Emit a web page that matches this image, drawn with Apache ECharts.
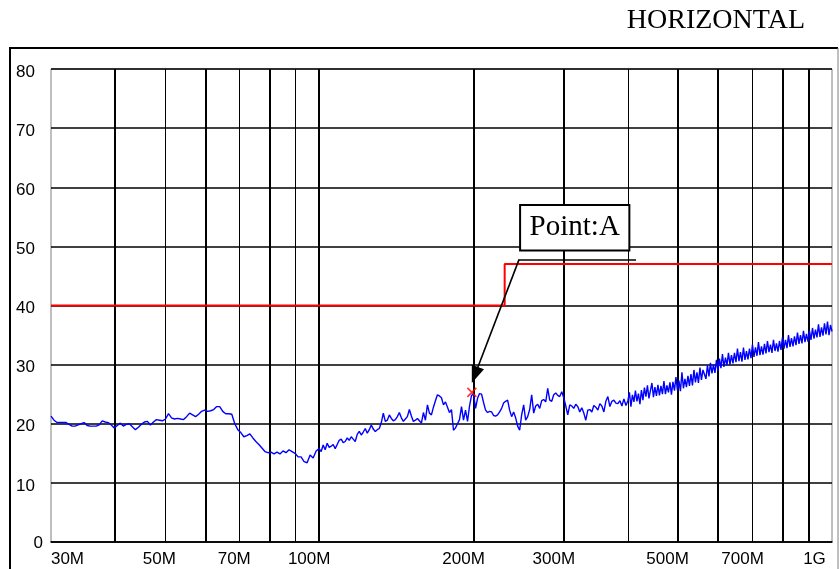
<!DOCTYPE html>
<html>
<head>
<meta charset="utf-8">
<script src="https://cdn.jsdelivr.net/npm/echarts@6/dist/echarts.min.js"></script>
<style>
  html, body { margin: 0; padding: 0; background: #fff; }
  #chart { width: 839px; height: 569px; }
</style>
</head>
<body>
<div id="chart"></div>
<script>
// Radiated emission scan, horizontal polarisation (level in dBµV/m, frequency in MHz).
// Each sweep segment lists levels at evenly log-spaced receiver steps between its two edge frequencies.
const sweep1Range = [30, 100];
const sweep1Levels = [
  21.3, 20.6, 20.2, 20.2, 20.2, 20.2, 19.9, 19.6, 19.6, 19.8,
  20.0, 20.2, 19.7, 19.6, 19.6, 19.6, 19.8, 20.5, 20.3, 20.2,
  19.8, 19.3, 19.7, 20.1, 19.6, 19.9, 20.0, 19.5, 19.0, 19.4,
  19.9, 20.3, 20.4, 19.8, 20.3, 20.7, 20.6, 20.5, 20.8, 21.7,
  21.0, 20.8, 20.9, 20.8, 20.7, 21.2, 21.8, 21.5, 21.2, 21.6,
  22.1, 22.3, 22.1, 22.2, 22.4, 22.9, 22.9, 22.1, 21.7, 21.7,
  21.6, 20.0, 19.0, 18.5, 17.8, 18.0, 18.3, 17.6, 17.0, 16.5,
  15.9, 15.3, 15.1, 15.2, 14.9, 15.2, 14.9, 15.4, 15.1, 15.6,
  15.3, 15.0, 14.4, 14.4, 13.6, 13.4, 14.7, 14.2, 15.4, 15.8
];
const sweep2Range = [100, 400];
const sweep2Levels = [
  15.8, 15.3, 16.4, 15.6, 16.7, 16.0, 16.2, 16.5, 15.8, 16.5,
  17.2, 17.4, 16.8, 17.0, 17.6, 17.2, 17.8, 17.4, 17.0, 18.2,
  18.7, 18.1, 18.6, 19.2, 18.4, 19.0, 19.8, 19.1, 18.7, 19.0,
  19.2, 20.2, 21.8, 20.4, 20.6, 21.5, 20.9, 20.5, 20.7, 21.2,
  21.9, 21.0, 20.4, 20.8, 21.2, 22.4, 21.3, 20.4, 20.6, 20.9,
  20.5, 20.1, 21.9, 20.6, 23.2, 21.8, 21.5, 22.8, 23.9, 24.9,
  24.7, 24.4, 23.2, 23.7, 22.8, 21.9, 22.4, 18.9, 19.3, 20.0,
  20.7, 22.9, 20.6, 22.3, 20.4, 23.0, 24.8, 25.0, 22.6, 24.3,
  25.1, 25.0, 23.6, 22.3, 21.9, 22.1, 22.0, 21.4, 21.3, 21.5,
  22.0, 22.6, 23.5, 23.8, 24.0, 22.3, 21.2, 22.0, 21.0, 19.6,
  18.9, 21.5, 23.2, 20.6, 21.2, 22.4, 24.9, 21.8, 23.0, 23.3,
  22.6, 23.9, 24.1, 23.7, 26.0, 24.0, 23.8, 24.9, 25.2, 24.8,
  24.6, 25.4, 24.4, 23.0, 21.5, 23.2, 23.0, 22.6, 23.3, 22.9,
  22.0, 22.7, 21.8, 20.6, 22.3, 22.4, 22.0, 23.1, 22.8, 22.3,
  23.4, 23.0, 22.0, 23.8, 24.6, 22.9, 23.8, 24.0, 23.5, 23.4,
  23.9, 23.0, 24.2, 23.1, 23.9
];
const sweep3Range = [400, 1000];
const sweep3Levels = [
  23.6, 25.3, 22.9, 24.9, 23.7, 25.6, 23.8, 25.1, 23.3, 25.7,
  24.0, 26.1, 24.6, 26.5, 24.3, 25.6, 26.9, 24.5, 26.2, 24.7,
  26.6, 24.8, 26.4, 25.0, 27.2, 25.0, 26.5, 25.3, 27.0, 24.9,
  27.1, 25.6, 27.9, 25.7, 27.3, 25.5, 28.7, 26.0, 27.6, 26.2,
  28.1, 26.4, 28.4, 26.5, 29.1, 27.0, 28.7, 26.9, 29.5, 27.4,
  29.1, 28.8, 27.6, 29.9, 28.0, 30.3, 28.5, 30.0, 28.6, 30.8,
  29.0, 31.0, 29.4, 31.8, 29.6, 31.2, 29.9, 32.0, 30.0, 31.6,
  30.2, 32.0, 30.4, 32.7, 30.6, 32.1, 30.5, 32.9, 30.8, 32.3,
  30.9, 32.7, 31.1, 33.4, 31.3, 32.9, 31.5, 33.8, 31.6, 33.1,
  31.7, 33.5, 31.9, 34.0, 32.1, 33.4, 32.0, 34.2, 32.3, 33.6,
  32.2, 34.0, 32.5, 34.6, 32.7, 34.2, 32.8, 35.0, 33.0, 34.5,
  33.1, 34.8, 33.3, 35.4, 33.5, 35.0, 33.6, 35.7, 33.8, 35.2,
  33.9, 35.7, 34.2, 36.2, 34.4, 35.9, 34.6, 36.8, 34.7, 36.3,
  34.9, 37.0, 35.1, 37.3, 35.0, 36.7, 35.6
];

// Limit line (step at 230 MHz)
const limitFreq = [30, 230, 230, 1000];
const limitLevel = [40, 40, 47, 47];

// Marker "Point:A"
const markerFreq = 198.5;
const markerLevel = 25.3;
const markerName = 'Point:A';

// Axes
const xLabelFreqs = [30, 50, 70, 100, 200, 300, 500, 700, 1000];
const xLabelTexts = ['30M', '50M', '70M', '100M', '200M', '300M', '500M', '700M', '1G'];
const xGridHeavy = [40, 60, 80, 100, 200, 300, 500, 600, 800, 900];
const xGridLight = [50, 70, 90, 400, 700];
const yMin = 0, yMax = 80, yStep = 10;

const lg = Math.log10;
const X_MIN = lg(30), X_MAX = lg(1000);

function expandSweep(range, levels, skipFirst) {
  const a = lg(range[0]), b = lg(range[1]);
  const n = levels.length;
  const out = [];
  for (let i = skipFirst ? 1 : 0; i < n; i++) {
    out.push([a + (b - a) * i / (n - 1), levels[i]]);
  }
  return out;
}

const traceData = []
  .concat(expandSweep(sweep1Range, sweep1Levels, false))
  .concat(expandSweep(sweep2Range, sweep2Levels, true))
  .concat(expandSweep(sweep3Range, sweep3Levels, true));

const limitData = limitFreq.map((f, i) => [lg(f), limitLevel[i]]);

const SANS = "'Liberation Sans Narrow', 'Liberation Sans', Arial, sans-serif";
const SERIF = "'Liberation Serif', 'Times New Roman', serif";
const FS = 17;

function xLabel(value) {
  let best = 0, d = Infinity;
  xLabelFreqs.forEach((f, i) => {
    const dd = Math.abs(lg(f) - value);
    if (dd < d) { d = dd; best = i; }
  });
  const t = xLabelTexts[best];
  if (best === 0) return '{s|' + t + '}';
  if (best === xLabelTexts.length - 1) return '{e|' + t + '}';
  return (t.length > 3 ? '{b|' : '{a|') + t + '}';
}

const txt = (padding) => ({ fontFamily: SANS, fontSize: FS, color: '#000', padding });

const chart = echarts.init(document.getElementById('chart'), null, { renderer: 'canvas' });

chart.setOption({
  animation: false,
  backgroundColor: '#fff',
  title: {
    text: 'HORIZONTAL',
    right: 29,
    top: 2,
    textStyle: { fontFamily: SERIF, fontSize: 28, fontWeight: 'normal', color: '#000' }
  },
  graphic: [{
    type: 'polyline',
    silent: true,
    shape: { points: [[10, 575], [10, 48], [838, 48]] },
    style: { fill: null, stroke: '#000', lineWidth: 2 },
    z: 100
  }, {
    type: 'line',
    silent: true,
    shape: { x1: 838, y1: 48, x2: 838, y2: 575 },
    style: { stroke: '#808080', lineWidth: 1 },
    z: 100
  }],
  grid: {
    left: 51, right: 7, top: 69, bottom: 27,
    show: true, borderColor: '#808080', borderWidth: 1, backgroundColor: 'transparent'
  },
  xAxis: [{
    type: 'value',
    min: X_MIN, max: X_MAX,
    axisLine: { show: true, onZero: false, lineStyle: { color: '#000', width: 1.5 } },
    axisTick: { show: false, customValues: xGridHeavy.map(lg) },
    splitLine: { show: true, lineStyle: { color: '#000', width: 2 } },
    axisLabel: {
      customValues: xLabelFreqs.map(lg),
      formatter: xLabel,
      margin: 9,
      color: '#000',
      fontFamily: SANS,
      fontSize: FS,
      rich: {
        a: txt([0, 11, 0, 0]),
        b: txt([0, 20, 0, 0]),
        s: txt([0, 0, 0, 33]),
        e: txt([0, 35, 0, 0])
      }
    }
  }, {
    type: 'value',
    min: X_MIN, max: X_MAX,
    position: 'bottom',
    axisLine: { show: false },
    axisTick: { show: false, customValues: xGridLight.map(lg) },
    axisLabel: { show: false },
    splitLine: { show: true, lineStyle: { color: '#000', width: 1 } }
  }],
  yAxis: {
    type: 'value',
    min: yMin, max: yMax, interval: yStep,
    axisLine: { show: false },
    axisTick: { show: false },
    splitLine: { show: true, lineStyle: { color: '#000', width: 1.5 } },
    axisLabel: {
      margin: 8,
      color: '#000',
      fontFamily: SANS,
      fontSize: FS,
      formatter: v => v === 0 ? '{z|0}' : '{p|' + v + '}',
      rich: {
        p: txt([6, 8, 0, 0]),
        z: txt([2, 0, 0, 0])
      }
    }
  },
  series: [{
    name: 'Limit',
    type: 'line',
    data: limitData,
    showSymbol: false,
    silent: true,
    lineStyle: { color: '#ff0000', width: 2 },
    z: 3
  }, {
    name: 'Level',
    type: 'line',
    data: traceData,
    showSymbol: false,
    silent: true,
    lineStyle: { color: '#0000ff', width: 1.4 },
    z: 4
  }, {
    name: markerName,
    type: 'scatter',
    data: [[lg(markerFreq), markerLevel]],
    symbol: 'path://M0,0L10,10M10,0L0,10',
    symbolSize: 9,
    silent: true,
    itemStyle: { color: 'none', borderColor: '#ff0000', borderWidth: 1.6 },
    z: 6,
    markArea: {
      silent: true,
      itemStyle: { color: '#fff', opacity: 1, borderColor: '#000', borderWidth: 2 },
      label: {
        show: true, position: 'inside', formatter: markerName,
        fontFamily: SERIF, fontSize: 29, color: '#000'
      },
      emphasis: { disabled: true },
      data: [[{ coord: [lg(246.5), 57.0] }, { coord: [lg(402.6), 49.3] }]]
    },
    markLine: {
      silent: true,
      symbol: ['none', 'none'],
      label: { show: false },
      emphasis: { disabled: true },
      lineStyle: { color: '#000', width: 1.6, type: 'solid' },
      data: [
        [{ coord: [lg(245.4), 47.8] }, { coord: [lg(414.9), 47.8] }],
        [{ coord: [lg(245.4), 47.8] },
         { coord: [lg(201.2), 28.25], symbol: 'triangle', symbolSize: [13, 17] }]
      ]
    }
  }]
});
</script>
</body>
</html>
